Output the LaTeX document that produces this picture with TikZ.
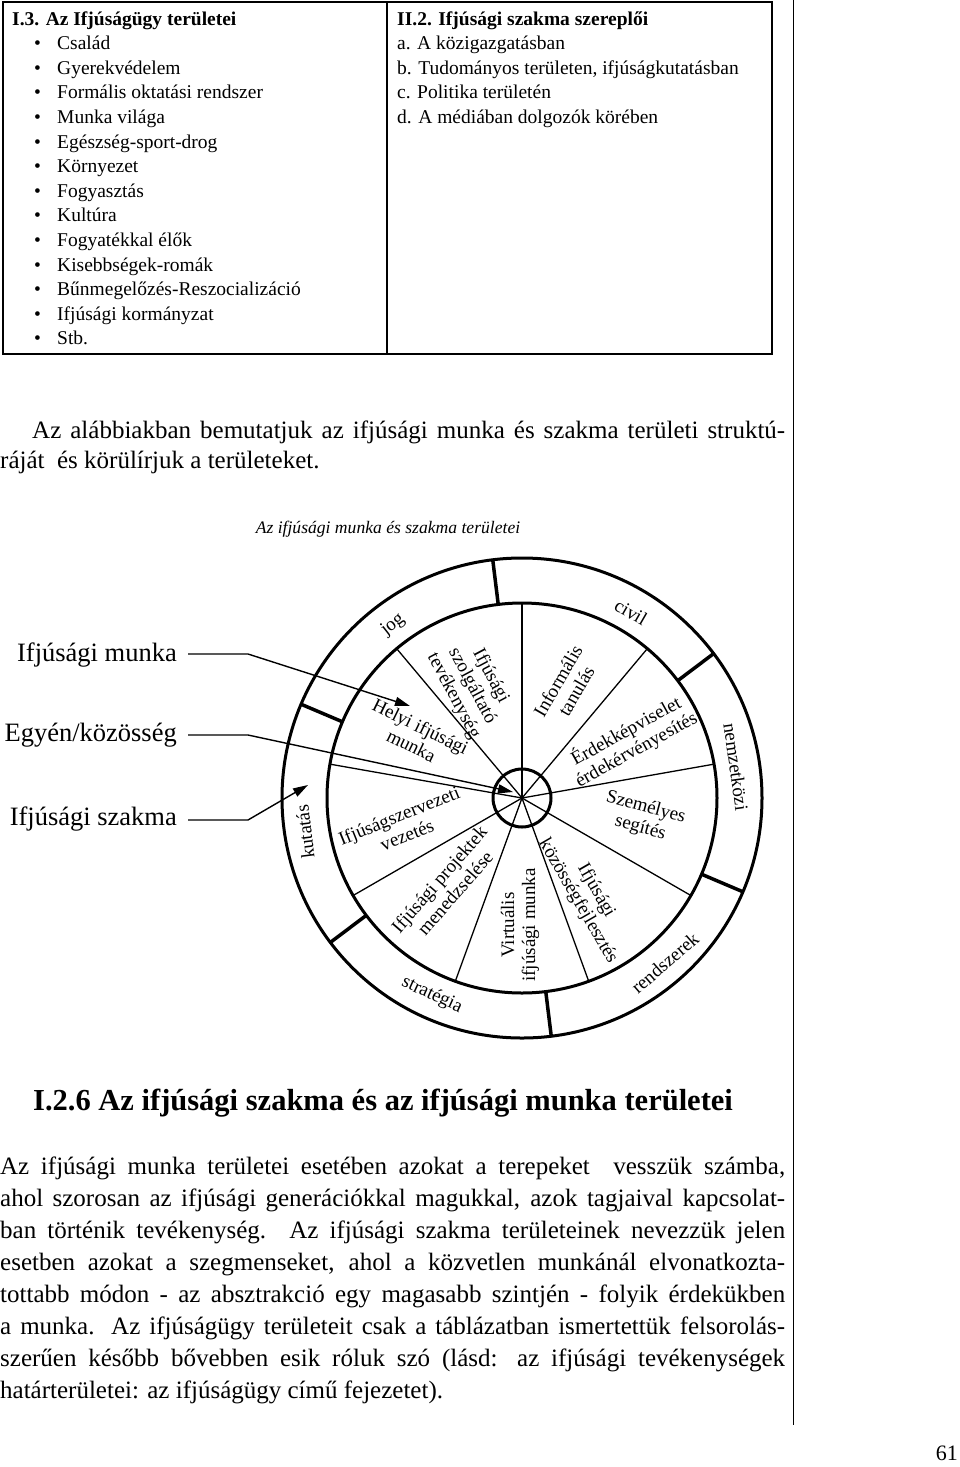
\documentclass[tikz,border=0pt]{standalone}
\usepackage{fontspec}
\setmainfont{Liberation Serif}
\usetikzlibrary{arrows.meta}
\begin{document}
\begin{tikzpicture}[x=1pt,y=-1pt,
  tabtxt/.style={font=\fontsize{19.5}{24}\selectfont, anchor=base west, inner sep=0pt},
  tabhead/.style={font=\fontsize{19.5}{24}\selectfont\bfseries, anchor=base west, inner sep=0pt},
  bodytxt/.style={font=\fontsize{25}{30}\selectfont, anchor=base west, inner sep=0pt},
  lbl/.style={font=\fontsize{26.5}{30}\selectfont, anchor=base east, inner sep=0pt},
  seg/.style={font=\fontsize{19}{21}\selectfont, align=center, inner sep=0pt},
  ringtxt/.style={font=\fontsize{19}{21}\selectfont, inner sep=0pt},
  thickline/.style={line width=3pt},
  spoke/.style={line width=1.3pt},
  pointer/.style={line width=1.4pt, -{Triangle[length=15pt,width=9pt]}},
]
\useasboundingbox (0,0) rectangle (960,1467);

% ---------- top table ----------
\draw[line width=2pt] (3,2) rectangle (772,354);
\draw[line width=2pt] (387,2) -- (387,354);
\node[tabhead] (t1) at (12,25) {I.3. Az Ifjúságügy területei};
\foreach [count=\i] \t in {Család,Gyerekvédelem,Formális oktatási rendszer,Munka világa,Egészség-sport-drog,Környezet,Fogyasztás,Kultúra,Fogyatékkal élők,Kisebbségek-romák,Bűnmegelőzés-Reszocializáció,Ifjúsági kormányzat,Stb.}{
  \node[tabtxt] (bul\i) at (34,{25+24.6*\i}) {•};
  \node[tabtxt] (it\i) at (57,{25+24.6*\i}) {\t};
}
\node[tabhead] (t2) at (397,25) {II.2. Ifjúsági szakma szereplői};
\node[tabtxt] (ra) at (397,49.6) {a. A közigazgatásban};
\node[tabtxt] (rb) at (397,74.2) {b. Tudományos területen, ifjúságkutatásban};
\node[tabtxt] (rc) at (397,98.8) {c. Politika területén};
\node[tabtxt] (rd) at (397,123.4) {d. A médiában dolgozók körében};

% ---------- page rule ----------
\draw[line width=1pt] (793,0) -- (793,1425);

% ---------- intro paragraph ----------
\node[bodytxt] (p1) at (32,438) {\makebox[753pt][s]{Az alábbiakban bemutatjuk az ifjúsági munka és szakma területi struktú-}};
\node[bodytxt] (p2) at (0,468) {ráját~ és körülírjuk a területeket.};

\node[font=\fontsize{17.6}{20}\selectfont\itshape, anchor=base, inner sep=0pt] (cap) at (388,533) {Az ifjúsági munka és szakma területei};

% ---------- wheel ----------
\begin{scope}[shift={(522,798)}]
  \draw[thickline] (0,0) circle (195pt);
  \draw[thickline] (0,0) circle (240pt);
  \foreach \a in {10,50,...,330} \draw[spoke] (0,0) -- (\a:195pt);
  \foreach \a in {37,97,...,337} \draw[line width=3.5pt] (\a:195pt) -- (\a:240pt);
\end{scope}
\node[circle, draw, line width=3pt, minimum size=58pt, inner sep=0pt] (hub) at (522,798) {};

% sector labels
\node[seg, rotate=-62] (s1) at (472,686) {Ifjúsági\\szolgáltató\\tevékenység};
\node[seg, rotate=60] (s2) at (567,686) {Informális\\tanulás};
\node[seg, rotate=29] (s3) at (631,740) {Érdekképviselet\\érdekérvényesítés};
\node[seg, rotate=-15] (s4) at (643,818) {Személyes\\segítés};
\node[seg, rotate=-60] (s5) at (587,896) {Ifjúsági\\közösségfejlesztés};
\node[seg, rotate=90] (s6) at (520,925) {Virtuális\\ifjúsági munka};
\node[seg, rotate=49] (s7) at (447,886) {Ifjúsági projektek\\menedzselése};
\node[seg, rotate=22] (s8) at (403,825) {Ifjúságszervezeti\\vezetés};
\node[seg, rotate=-26] (s9) at (416,736) {Helyi ifjúsági\\munka};

% ring labels
\node[ringtxt, rotate=38] (o1) at (393,625) {jog};
\node[ringtxt, rotate=-30] (o2) at (631,612) {civil};
\node[ringtxt, rotate=-82] (o3) at (736,767) {nemzetközi};
\node[ringtxt, rotate=41] (o4) at (665,963) {rendszerek};
\node[ringtxt, rotate=-24.5] (o5) at (432,995) {stratégia};
\node[ringtxt, rotate=97] (o6) at (305,832) {kutatás};

% ---------- left labels and pointers ----------
\node[lbl] (lm) at (177,661) {Ifjúsági munka};
\node[lbl] (le) at (177,741) {Egyén/közösség};
\node[lbl] (ls) at (177,825) {Ifjúsági szakma};
\coordinate (lmA) at (188,654);
\coordinate (lmB) at (248,654);
\coordinate (lmT) at (410,706);
\coordinate (leA) at (188,735);
\coordinate (leB) at (248,735);
\coordinate (leT) at (513,792);
\coordinate (lsA) at (188,820);
\coordinate (lsB) at (248,820);
\coordinate (lsT) at (308,785);
\draw[pointer] (lmA) -- (lmB) -- (lmT);
\draw[pointer] (leA) -- (leB) -- (leT);
\draw[pointer] (lsA) -- (lsB) -- (lsT);

% ---------- heading and body ----------
\node[font=\fontsize{30.5}{32}\selectfont\bfseries, anchor=base west, inner sep=0pt] (h) at (33,1110) {I.2.6 Az ifjúsági szakma és az ifjúsági munka területei};
\node[bodytxt] (q1) at (0,1174) {\makebox[785pt][s]{Az ifjúsági munka területei esetében azokat a terepeket~ vesszük számba,}};
\node[bodytxt] (q2) at (0,1206) {\makebox[785pt][s]{ahol szorosan az ifjúsági generációkkal magukkal, azok tagjaival kapcsolat-}};
\node[bodytxt] (q3) at (0,1238) {\makebox[785pt][s]{ban történik tevékenység. Az ifjúsági szakma területeinek nevezzük jelen}};
\node[bodytxt] (q4) at (0,1270) {\makebox[785pt][s]{esetben azokat a szegmenseket, ahol a közvetlen munkánál elvonatkozta-}};
\node[bodytxt] (q5) at (0,1302) {\makebox[785pt][s]{tottabb módon - az absztrakció egy magasabb szintjén - folyik érdekükben}};
\node[bodytxt] (q6) at (0,1334) {\makebox[785pt][s]{a munka. Az ifjúságügy területeit csak a táblázatban ismertettük felsorolás-}};
\node[bodytxt] (q7) at (0,1366) {\makebox[785pt][s]{szerűen később bővebben esik róluk szó (lásd: az ifjúsági tevékenységek}};
\node[bodytxt] (q8) at (0,1398) {határterületei: az ifjúságügy című fejezetet).};

\node[font=\fontsize{22}{24}\selectfont, anchor=base east, inner sep=0pt] (pn) at (958,1460) {61};
\end{tikzpicture}
\end{document}
